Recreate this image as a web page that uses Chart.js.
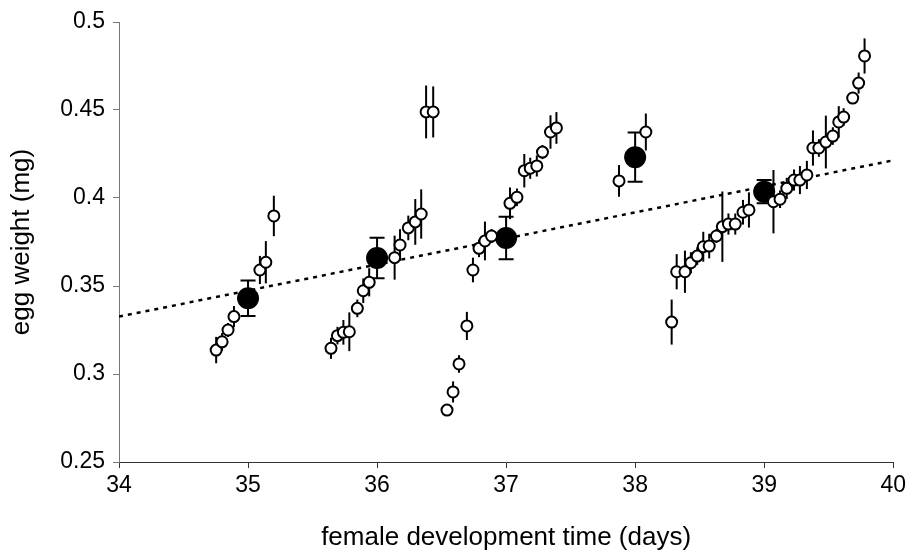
<!DOCTYPE html>
<html>
<head>
<meta charset="utf-8">
<script src="https://cdn.jsdelivr.net/npm/chart.js@4.4.1/dist/chart.umd.min.js"></script>
<style>
  html, body { margin: 0; padding: 0; background: #ffffff; }
  #wrap { width: 910px; height: 559px; }
</style>
</head>
<body>
<div id="wrap"><canvas id="c" width="910" height="559"></canvas></div>
<script>
// Individual females: development time (days), egg weight (mg), error half-length (mg)
const femaleDays = [
  34.753, 34.799, 34.845, 34.891, 35.092, 35.138, 35.200,
  35.643, 35.693, 35.739, 35.785, 35.847, 35.893, 35.939, 36.136, 36.178, 36.242, 36.296, 36.342,
  36.380, 36.435,
  36.542, 36.589, 36.635, 36.696, 36.743, 36.790, 36.836, 36.887,
  37.030, 37.084, 37.141, 37.187, 37.238, 37.282, 37.344, 37.390,
  37.875, 38.083,
  38.283, 38.322, 38.386, 38.432, 38.481, 38.528, 38.574, 38.630, 38.676, 38.723, 38.776, 38.836, 38.882,
  39.072, 39.123, 39.175, 39.231, 39.277, 39.331, 39.378, 39.424, 39.478, 39.532, 39.578, 39.616,
  39.686, 39.732, 39.778
];
const femaleEggWeight = [
  0.3136, 0.3183, 0.3250, 0.3326, 0.3591, 0.3635, 0.3898,
  0.3146, 0.3218, 0.3237, 0.3240, 0.3373, 0.3473, 0.3521, 0.3661, 0.3733, 0.3830, 0.3864, 0.3909,
  0.4489, 0.4489,
  0.2795, 0.2898, 0.3057, 0.3273, 0.3591, 0.3714, 0.3756, 0.3784,
  0.3970, 0.4004, 0.4155, 0.4169, 0.4182, 0.4261, 0.4375, 0.4398,
  0.4097, 0.4375,
  0.3295, 0.3581, 0.3581, 0.3632, 0.3670, 0.3723, 0.3727, 0.3784, 0.3837, 0.3852, 0.3852, 0.3919, 0.3932,
  0.3979, 0.3993, 0.4055, 0.4102, 0.4102, 0.4131, 0.4284, 0.4284, 0.4318, 0.4352, 0.4432, 0.4460,
  0.4568, 0.4653, 0.4807
];
const femaleError = [
  0.0075, 0.0050, 0.0040, 0.0060, 0.0080, 0.0120, 0.0115,
  0.0060, 0.0050, 0.0070, 0.0110, 0.0050, 0.0070, 0.0080, 0.0125, 0.0090, 0.0070, 0.0130, 0.0140,
  0.0150, 0.0145,
  0.0010, 0.0060, 0.0050, 0.0080, 0.0070, 0.0050, 0.0110, 0.0040,
  0.0090, 0.0050, 0.0095, 0.0060, 0.0060, 0.0040, 0.0095, 0.0090,
  0.0090, 0.0105,
  0.0128, 0.0100, 0.0120, 0.0060, 0.0050, 0.0085, 0.0070, 0.0040, 0.0200, 0.0060, 0.0060, 0.0070, 0.0100,
  0.0180, 0.0050, 0.0060, 0.0060, 0.0080, 0.0080, 0.0100, 0.0050, 0.0150, 0.0050, 0.0090, 0.0050,
  0.0030, 0.0060, 0.0100
];

// Means per development day
const meanDays = [35, 36, 37, 38, 39];
const meanEggWeight = [0.3430, 0.3659, 0.3773, 0.4232, 0.4036];
const meanError = [0.0101, 0.0115, 0.0121, 0.0140, 0.0066];

// Regression line end points
const trendDays = [34, 40];
const trendEggWeight = [0.3326, 0.4214];

// Axis tick labels
const xTickValues = [34, 35, 36, 37, 38, 39, 40];
const xTickLabels = ['34', '35', '36', '37', '38', '39', '40'];
const yTickValues = [0.25, 0.30, 0.35, 0.40, 0.45, 0.50];
const yTickLabels = ['0.25', '0.3', '0.35', '0.4', '0.45', '0.5'];

const FONT = '"Liberation Sans", Arial, sans-serif';

function labelFor(values, labels, v) {
  for (let i = 0; i < values.length; i++) {
    if (Math.abs(values[i] - v) < 1e-6) return labels[i];
  }
  return '';
}

// Vertical error bars drawn beneath the markers
const errorBars = {
  id: 'errorBars',
  beforeDatasetsDraw(chart) {
    const ctx = chart.ctx;
    const xs = chart.scales.x, ys = chart.scales.y;
    ctx.save();
    ctx.strokeStyle = '#000000';
    ctx.lineWidth = 2;
    ctx.lineCap = 'butt';
    for (let i = 0; i < femaleDays.length; i++) {
      const px = xs.getPixelForValue(femaleDays[i]);
      const top = ys.getPixelForValue(femaleEggWeight[i] + femaleError[i]);
      const bot = ys.getPixelForValue(femaleEggWeight[i] - femaleError[i]);
      ctx.beginPath();
      ctx.moveTo(px, top);
      ctx.lineTo(px, bot);
      ctx.stroke();
    }
    for (let i = 0; i < meanDays.length; i++) {
      const px = xs.getPixelForValue(meanDays[i]);
      const top = ys.getPixelForValue(meanEggWeight[i] + meanError[i]);
      const bot = ys.getPixelForValue(meanEggWeight[i] - meanError[i]);
      ctx.beginPath();
      ctx.moveTo(px, top);
      ctx.lineTo(px, bot);
      ctx.moveTo(px - 7.5, top);
      ctx.lineTo(px + 7.5, top);
      ctx.moveTo(px - 7.5, bot);
      ctx.lineTo(px + 7.5, bot);
      ctx.stroke();
    }
    ctx.restore();
  }
};

const ctx = document.getElementById('c').getContext('2d');
new Chart(ctx, {
  type: 'scatter',
  data: {
    datasets: [
      {
        label: 'trend',
        type: 'line',
        data: trendDays.map((d, i) => ({ x: d, y: trendEggWeight[i] })),
        borderColor: '#000000',
        borderWidth: 2.5,
        borderDash: [4, 5],
        pointRadius: 0,
        fill: false,
        order: 3
      },
      {
        label: 'means',
        data: meanDays.map((d, i) => ({ x: d, y: meanEggWeight[i] })),
        pointRadius: 11,
        pointBackgroundColor: '#000000',
        pointBorderColor: '#000000',
        pointBorderWidth: 0,
        order: 2
      },
      {
        label: 'females',
        data: femaleDays.map((d, i) => ({ x: d, y: femaleEggWeight[i] })),
        pointRadius: 5.5,
        pointBackgroundColor: '#ffffff',
        pointBorderColor: '#000000',
        pointBorderWidth: 2,
        order: 1
      }
    ]
  },
  options: {
    responsive: false,
    animation: false,
    devicePixelRatio: 1,
    layout: { padding: { top: 22, right: 12, bottom: 0, left: 0 } },
    plugins: {
      legend: { display: false },
      tooltip: { enabled: false }
    },
    scales: {
      x: {
        type: 'linear',
        min: 34,
        max: 40,
        afterFit(scale) { scale.height = 97; },
        afterBuildTicks(scale) { scale.ticks = xTickValues.map(v => ({ value: v })); },
        border: { display: true, color: '#333333', width: 1 },
        grid: { drawOnChartArea: false, drawTicks: true, tickLength: 6, tickColor: '#333333', lineWidth: 1 },
        ticks: {
          color: '#000000',
          padding: 4,
          maxRotation: 0,
          font: { family: FONT, size: 23 },
          callback: (v) => labelFor(xTickValues, xTickLabels, v)
        },
        title: {
          display: true,
          text: 'female development time (days)',
          color: '#000000',
          font: { family: FONT, size: 26 },
          padding: { top: 0, bottom: 6 }
        }
      },
      y: {
        type: 'linear',
        min: 0.25,
        max: 0.5,
        afterFit(scale) { scale.width = 119; },
        afterBuildTicks(scale) { scale.ticks = yTickValues.map(v => ({ value: v })); },
        border: { display: true, color: '#777777', width: 1 },
        grid: { drawOnChartArea: false, drawTicks: true, tickLength: 6, tickColor: '#777777', lineWidth: 1 },
        ticks: {
          color: '#000000',
          padding: 8,
          font: { family: FONT, size: 23 },
          callback: (v) => labelFor(yTickValues, yTickLabels, v)
        },
        title: {
          display: true,
          text: 'egg weight (mg)',
          color: '#000000',
          font: { family: FONT, size: 26 },
          padding: { top: 6, bottom: 0 }
        }
      }
    }
  },
  plugins: [errorBars]
});
</script>
</body>
</html>
